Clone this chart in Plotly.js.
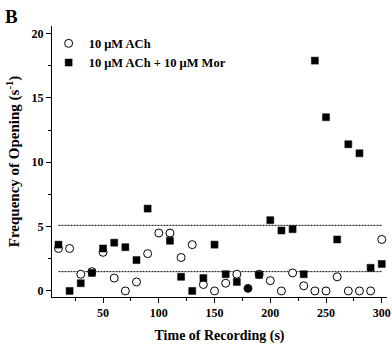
<!DOCTYPE html>
<html>
<head>
<meta charset="utf-8">
<script src="https://cdn.plot.ly/plotly-3.0.1.min.js"></script>
<style>html,body{margin:0;padding:0;background:#fff;}#chart{width:392px;height:344px;}</style>
</head>
<body>
<div id="chart"></div>
<script>
// Time of recording (s)
const times = [10,20,30,40,50,60,70,80,90,100,110,120,130,140,150,160,170,180,190,200,210,220,230,240,250,260,270,280,290,300];
// 10 uM ACh
const achValues = [3.3,3.3,1.3,1.5,3.0,1.0,0.0,0.7,2.9,4.5,4.5,2.6,3.6,0.5,0.0,0.6,1.3,0.2,1.3,0.8,0.0,1.4,0.4,0.0,0.0,1.1,0.0,0.0,0.0,4.0];
// 10 uM ACh + 10 uM Mor
const morValues = [3.6,0.0,0.6,1.4,3.3,3.75,3.4,2.4,6.4,null,3.9,1.1,0.0,1.0,3.6,1.3,0.7,0.2,1.25,5.5,4.7,4.8,1.3,17.9,13.5,4.0,11.4,10.7,1.8,2.1];
// reference levels (dotted lines)
const refLevels = [5.1, 1.5];
const refSpan = [10, 300];
const seriesNames = ['10 \u03bcM ACh', '10 \u03bcM ACh + 10 \u03bcM Mor'];
const xTicks = [50,100,150,200,250,300];
const yTicks = [0,5,10,15,20];

const serif = 'Liberation Serif, Times New Roman, serif';
const traces = [];
refLevels.forEach(function(v){
  traces.push({x: refSpan, y: [v, v], mode: 'lines', showlegend: false, hoverinfo: 'skip',
    line: {color: '#000', width: 1, dash: '2px,1px'}});
});
traces.push({x: times, y: achValues, name: seriesNames[0], mode: 'markers', type: 'scatter',
  marker: {symbol: 'circle', size: 8, color: '#fff', line: {color: '#000', width: 1}}});
traces.push({x: times, y: morValues, name: seriesNames[1], mode: 'markers', type: 'scatter',
  marker: {symbol: times.map(t => t === 180 ? 'circle' : 'square'), size: 7, color: '#000', line: {color: '#000', width: 0.5}}});

const layout = {
  width: 392, height: 344,
  margin: {l: 52, r: 5, t: 26, b: 47},
  paper_bgcolor: '#fff', plot_bgcolor: '#fff',
  font: {family: serif, color: '#000', size: 12, weight: 'bold'},
  showlegend: true,
  legend: {x: -0.01, y: 0.99, xanchor: 'left', yanchor: 'top', bgcolor: 'rgba(0,0,0,0)',
    font: {family: serif, size: 12.5, weight: 'bold', color: '#000'}, tracegroupgap: 0, itemwidth: 30},
  xaxis: {range: [4.2, 304.7], showline: true, linecolor: '#000', linewidth: 1, mirror: false,
    showgrid: false, zeroline: false, ticks: 'outside', ticklen: 5, tickwidth: 1, tickcolor: '#000',
    tickvals: xTicks, ticktext: xTicks.map(String),
    tickfont: {family: serif, size: 12, weight: 'bold'},
    minor: {dtick: 25, tick0: 25, ticks: 'outside', ticklen: 3, tickcolor: '#000', showgrid: false},
    title: {text: 'Time of Recording (s)', font: {family: serif, size: 14, weight: 'bold'}, standoff: 13}},
  yaxis: {range: [-0.47, 20.59], showline: true, linecolor: '#000', linewidth: 1, mirror: false,
    showgrid: false, zeroline: false, ticks: 'outside', ticklen: 5, tickwidth: 1, tickcolor: '#000',
    tickvals: yTicks, ticktext: yTicks.map(String),
    tickfont: {family: serif, size: 12, weight: 'bold'},
    minor: {dtick: 2.5, tick0: 2.5, ticks: 'outside', ticklen: 3, tickcolor: '#000', showgrid: false},
    title: {text: 'Frequency of Opening (s<sup>-1</sup>)', font: {family: serif, size: 15, weight: 'bold'}, standoff: 8}},
  annotations: [{text: 'B', xref: 'paper', yref: 'paper', x: -0.145, y: 1.035, xanchor: 'left', yanchor: 'middle',
    showarrow: false, font: {family: serif, size: 19, weight: 'bold', color: '#000'}}]
};
Plotly.newPlot('chart', traces, layout, {displayModeBar: false, staticPlot: true});
</script>
</body>
</html>
